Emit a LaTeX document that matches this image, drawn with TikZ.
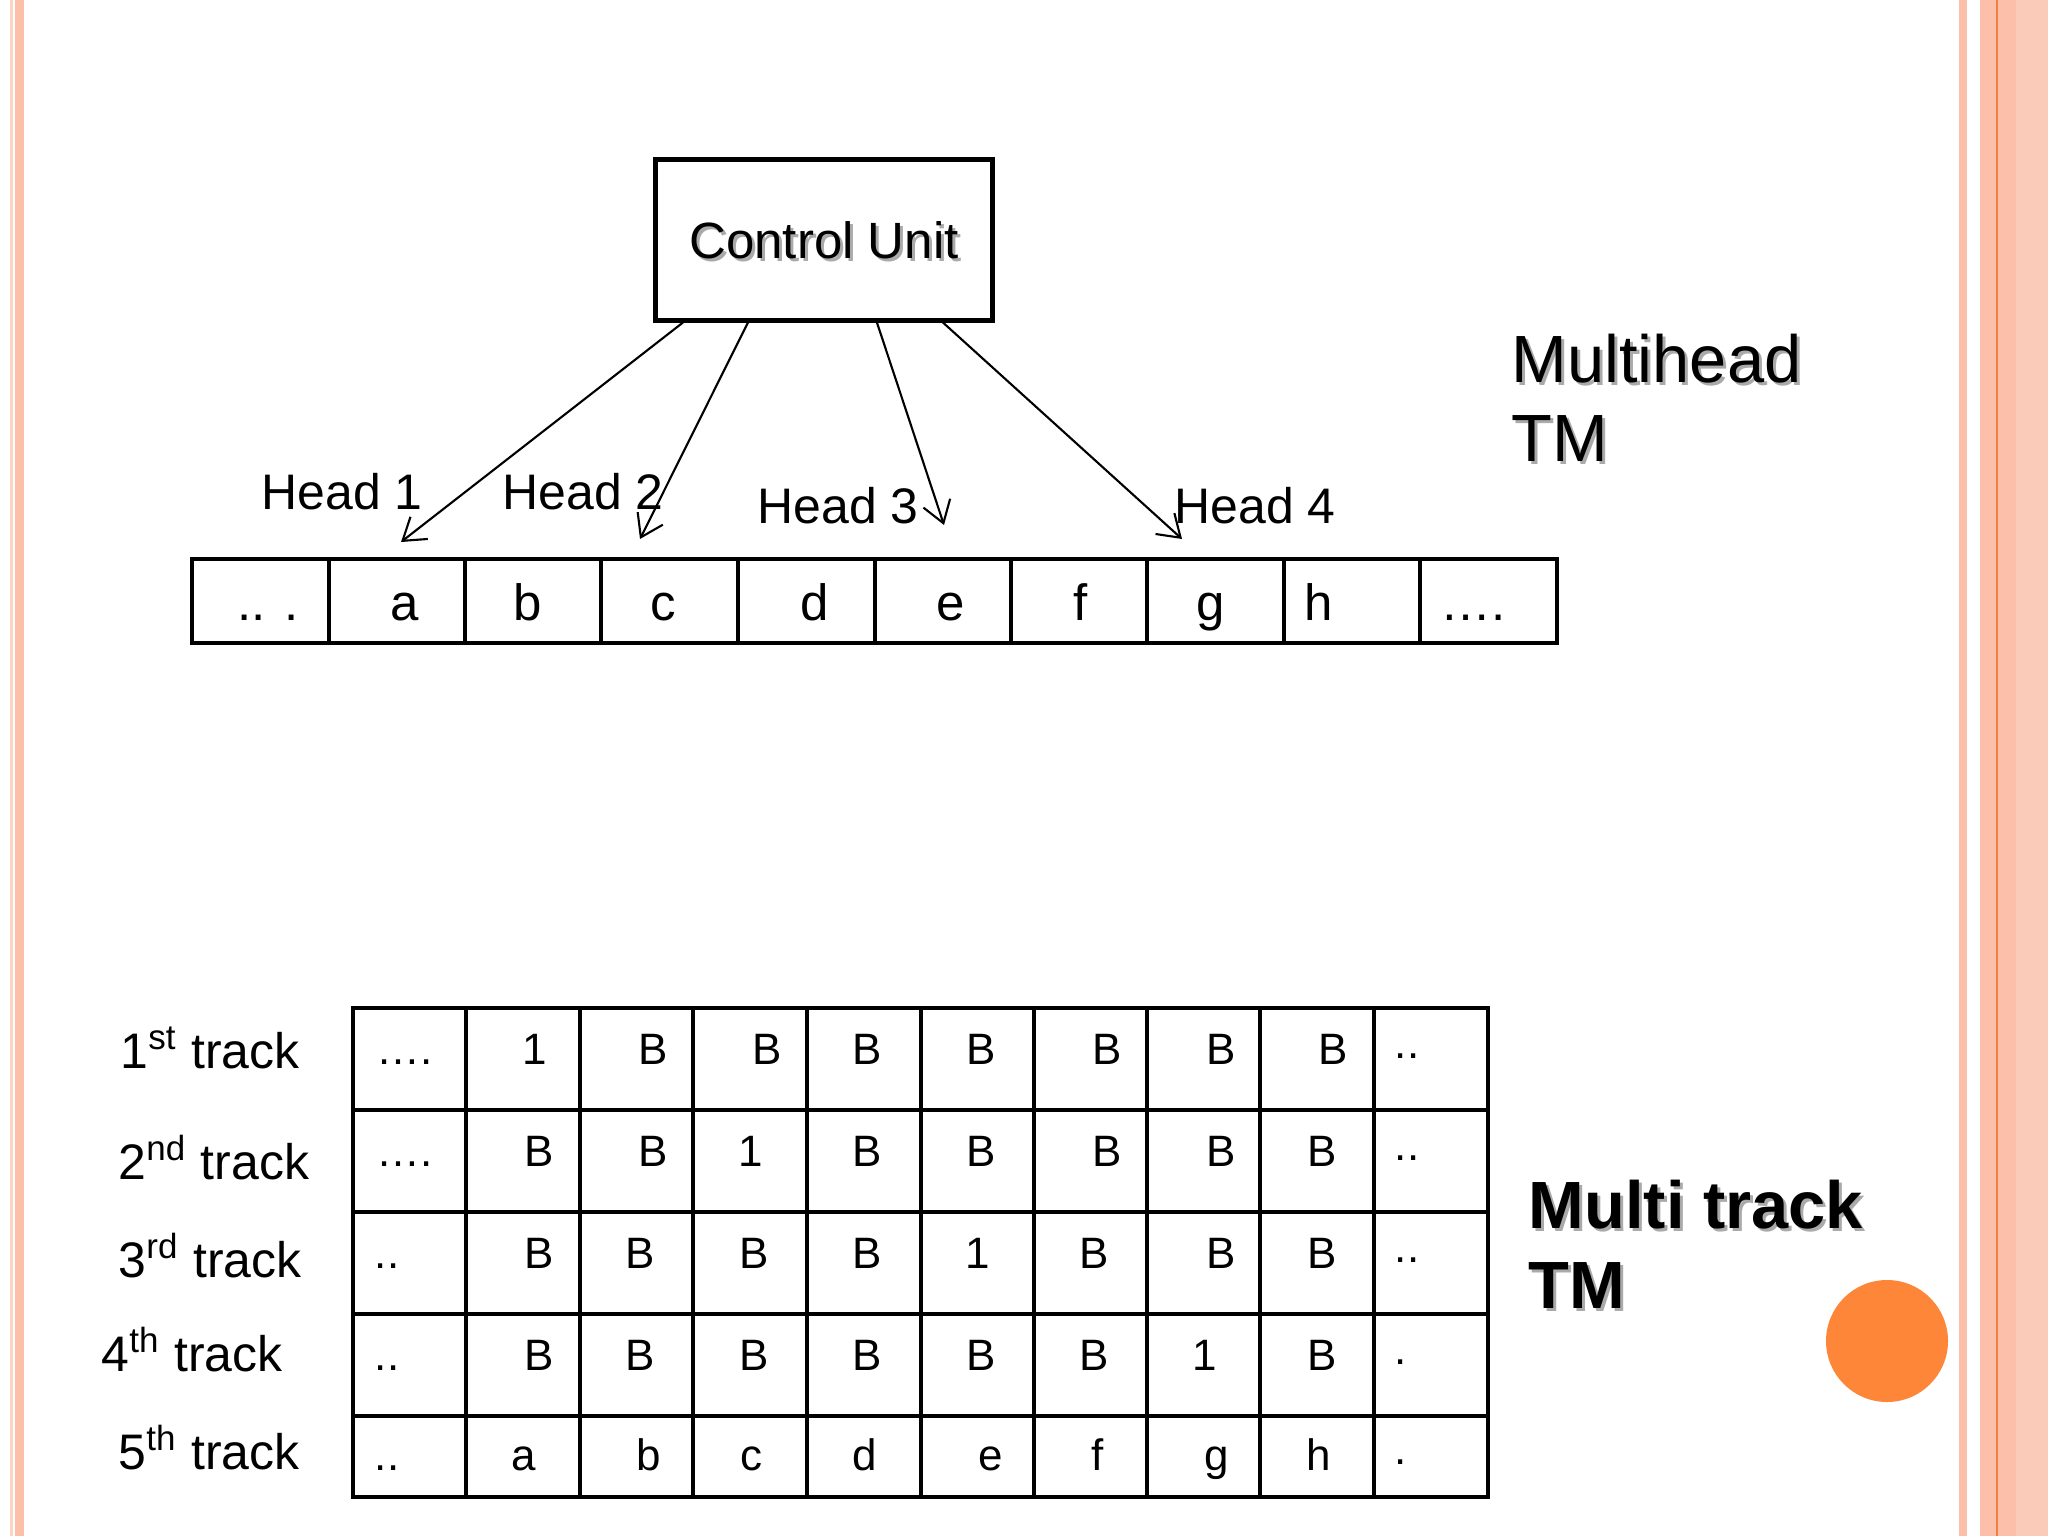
\documentclass[tikz,border=0pt]{standalone}
\usepackage{fontspec}
\setmainfont{Liberation Sans}
\usetikzlibrary{arrows.meta,calc}
\definecolor{stripe}{RGB}{252,192,170}
\definecolor{stripeB}{RGB}{249,203,184}
\definecolor{orangeline}{RGB}{240,128,64}
\definecolor{dotorange}{RGB}{253,134,56}
\definecolor{shadowgray}{RGB}{170,170,170}
\begin{document}
\begin{tikzpicture}[x=0.01cm,y=-0.01cm,
  txt/.style={inner sep=0pt, anchor=base, font=\fontsize{14.5}{17}\selectfont},
  hl/.style={inner sep=0pt, anchor=base west, font=\fontsize{14.2}{17}\selectfont},
  gt/.style={inner sep=0pt, anchor=base, font=\fontsize{12.5}{15}\selectfont},
  title/.style={inner sep=0pt, anchor=base west, font=\fontsize{19}{22}\selectfont},
  btitle/.style={inner sep=0pt, anchor=base west, font=\fontsize{19}{22}\selectfont\bfseries},
  shadow/.style={text=shadowgray},
  arr/.style={line width=0.6pt, -{Straight Barb[length=6pt,width=8pt]}},
  thin/.style={line width=0.9pt},
  grid/.style={line width=0.9pt}]
\useasboundingbox (0,0) rectangle (2048,1536);
\fill[white] (0,0) rectangle (2048,1536);
% borders
\fill[stripe!70] (10,0) rectangle (13,1536);
\fill[stripe] (15,0) rectangle (24,1536);
\fill[stripe] (1959,0) rectangle (1967,1536);
\fill[stripe] (1980,0) rectangle (2048,1536);
\fill[stripeB] (2016,0) rectangle (2048,1536);
\draw[orangeline, line width=0.6pt] (1997,0) -- (1997,1536);
% control unit
\node[txt, anchor=center, shadow] at (827,243) {Control Unit};
\node[draw, line width=1.4pt, minimum width=3.37cm, minimum height=1.6cm, inner sep=0pt,
  font=\fontsize{14.5}{17}\selectfont] (cu) at (824,240) {Control Unit};
% head targets
\coordinate (h1) at (401,542);
\coordinate (h2) at (640,539);
\coordinate (h3) at (944,525);
\coordinate (h4) at (1182,539);
\draw[arr] ($(cu.south west)+(30,0)$) -- (h1);
\draw[arr] ($(cu.south west)+(95,0)$) -- (h2);
\draw[arr] ($(cu.south west)+(224,0)$) -- (h3);
\draw[arr] ($(cu.south west)+(290,0)$) -- (h4);
\node[hl] (lh1) at (261,509) {Head 1};
\node[hl] (lh2) at (502,509) {Head 2};
\node[hl] (lh3) at (757,523) {Head 3};
\node[hl] (lh4) at (1174,523) {Head 4};
% tape
\draw[thin] (192,559) rectangle (1557,643);
\foreach \x in {329,465,601,738,875,1011,1147,1284,1420} \draw[thin] (\x,559) -- (\x,643);
\node[txt] (t0) at (268,620) {.. .};
\node[txt] (t1) at (405,620) {a};
\node[txt] (t2) at (528,620) {b};
\node[txt] (t3) at (663,620) {c};
\node[txt] (t4) at (815,620) {d};
\node[txt] (t5) at (951,620) {e};
\node[txt] (t6) at (1081,620) {f};
\node[txt] (t7) at (1211,620) {g};
\node[txt] (t8) at (1319,620) {h};
\node[txt] (t9) at (1473,620) {….};
% titles
\node[title, shadow] at (1514,385) {Multihead};
\node[title, shadow] at (1514,464) {TM};
\node[title] (mh1) at (1511,382) {Multihead};
\node[title] (mh2) at (1511,461) {TM};
\node[btitle, shadow] at (1531,1231) {Multi track};
\node[btitle, shadow] at (1531,1311) {TM};
\node[btitle] (mt1) at (1528,1228) {Multi track};
\node[btitle] (mt2) at (1528,1308) {TM};
% orange circle
\fill[dotorange] (1887,1341) circle[radius=61];
% multitrack grid
\draw[grid] (353,1008) rectangle (1488,1497);
\foreach \y in {1110,1212,1314,1416} \draw[grid] (353,\y) -- (1488,\y);
\foreach \x in {466,580,693,807,921,1034,1147,1260,1374} \draw[grid] (\x,1008) -- (\x,1497);
% track labels
\node[hl] (tr1) at (120,1068) {1\textsuperscript{st} track};
\node[hl] (tr2) at (118,1179) {2\textsuperscript{nd} track};
\node[hl] (tr3) at (118,1277) {3\textsuperscript{rd} track};
\node[hl] (tr4) at (101,1371) {4\textsuperscript{th} track};
\node[hl] (tr5) at (118,1469) {5\textsuperscript{th} track};
% row 1
\node[gt] (a1) at (405,1064) {….};
\node[gt] (a2) at (535,1064) {1};
\node[gt] (a3) at (653,1064) {B};
\node[gt] (a4) at (767,1064) {B};
\node[gt] (a5) at (867,1064) {B};
\node[gt] (a6) at (981,1064) {B};
\node[gt] (a7) at (1107,1064) {B};
\node[gt] (a8) at (1221,1064) {B};
\node[gt] (a9) at (1333,1064) {B};
\node[gt] (a10) at (1407,1058) {..};
% row 2
\node[gt] (b1) at (405,1166) {….};
\node[gt] (b2) at (539,1166) {B};
\node[gt] (b3) at (653,1166) {B};
\node[gt] (b4) at (751,1166) {1};
\node[gt] (b5) at (867,1166) {B};
\node[gt] (b6) at (981,1166) {B};
\node[gt] (b7) at (1107,1166) {B};
\node[gt] (b8) at (1221,1166) {B};
\node[gt] (b9) at (1322,1166) {B};
\node[gt] (b10) at (1407,1160) {..};
% row 3
\node[gt] (c1) at (387,1268) {..};
\node[gt] (c2) at (539,1268) {B};
\node[gt] (c3) at (640,1268) {B};
\node[gt] (c4) at (754,1268) {B};
\node[gt] (c5) at (867,1268) {B};
\node[gt] (c6) at (978,1268) {1};
\node[gt] (c7) at (1094,1268) {B};
\node[gt] (c8) at (1221,1268) {B};
\node[gt] (c9) at (1322,1268) {B};
\node[gt] (c10) at (1407,1262) {..};
% row 4
\node[gt] (d1) at (387,1370) {..};
\node[gt] (d2) at (539,1370) {B};
\node[gt] (d3) at (640,1370) {B};
\node[gt] (d4) at (754,1370) {B};
\node[gt] (d5) at (867,1370) {B};
\node[gt] (d6) at (981,1370) {B};
\node[gt] (d7) at (1094,1370) {B};
\node[gt] (d8) at (1205,1370) {1};
\node[gt] (d9) at (1322,1370) {B};
\node[gt] (d10) at (1401,1364) {.};
% row 5
\node[gt] (e1) at (387,1470) {..};
\node[gt] (e2) at (524,1470) {a};
\node[gt] (e3) at (649,1470) {b};
\node[gt] (e4) at (751,1470) {c};
\node[gt] (e5) at (865,1470) {d};
\node[gt] (e6) at (991,1470) {e};
\node[gt] (e7) at (1098,1470) {f};
\node[gt] (e8) at (1217,1470) {g};
\node[gt] (e9) at (1319,1470) {h};
\node[gt] (e10) at (1401,1464) {.};
\end{tikzpicture}
\end{document}
